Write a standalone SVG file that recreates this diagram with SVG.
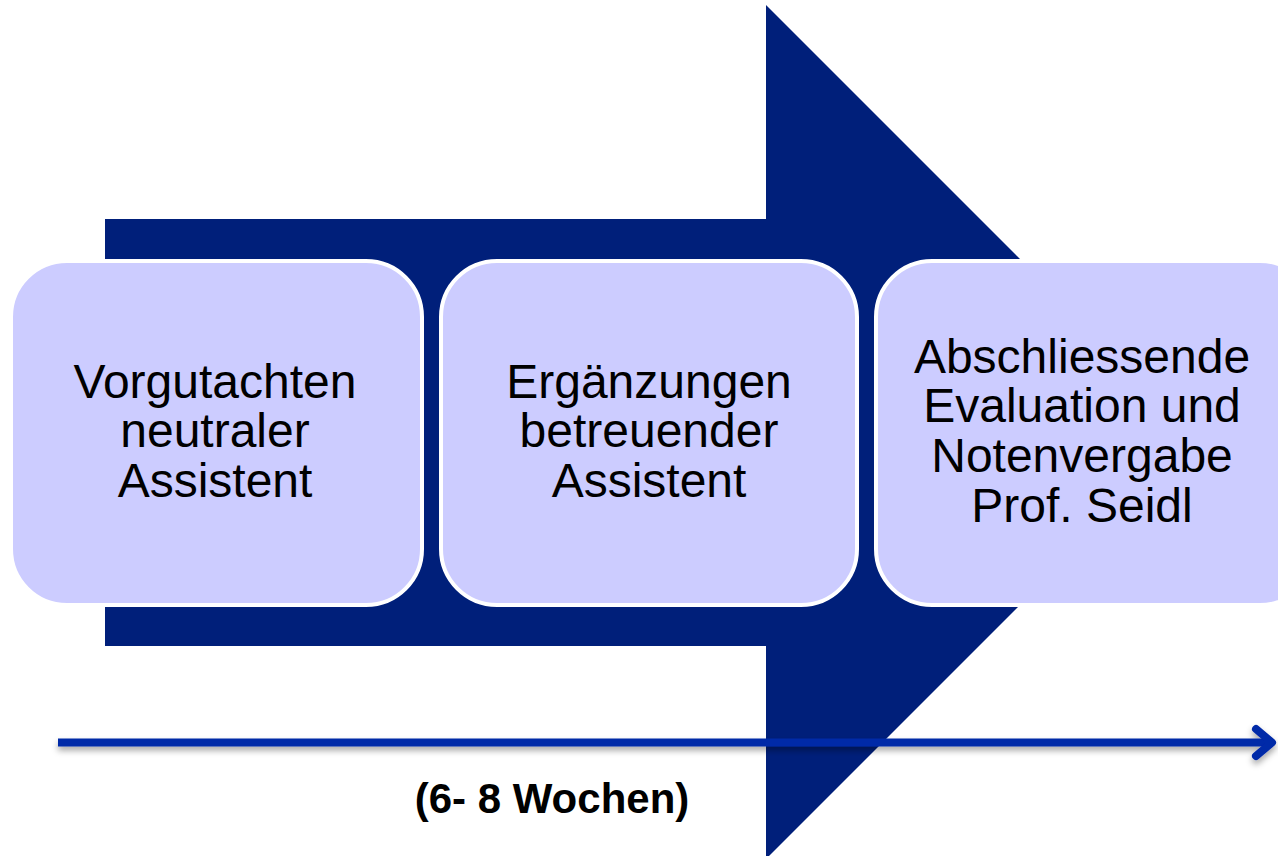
<svg xmlns="http://www.w3.org/2000/svg" width="1278" height="856" viewBox="0 0 1278 856">
<defs>
<style>
.box{fill:#CCCCFF;stroke:#FFFFFF;stroke-width:4}
.t{font-family:"Liberation Sans",Arial,sans-serif;font-size:48px;fill:#000;text-anchor:middle}
.lbl{font-family:"Liberation Sans",Arial,sans-serif;font-size:42px;font-weight:bold;fill:#000;text-anchor:middle}
.tl{stroke:#0029A8;stroke-width:8;fill:none}
</style>
<filter id="sh" x="-5%" y="-100%" width="110%" height="300%">
<feDropShadow dx="0" dy="4" stdDeviation="3" flood-color="#000" flood-opacity="0.35"/>
</filter>
</defs>
<rect width="1278" height="856" fill="#FFFFFF"/>
<g id="big-arrow">
<polygon points="105,219 766,219 766,5 1193,432 766,859 766,646 105,646" fill="#001F7A"/>
</g>
<g id="node1">
<rect class="box" x="11" y="261" width="411" height="344" rx="56" ry="56"/>
<text class="t" x="215" y="398">Vorgutachten</text>
<text class="t" x="215" y="447">neutraler</text>
<text class="t" x="215" y="497">Assistent</text>
</g>
<g id="node2">
<rect class="box" x="441" y="261" width="416" height="344" rx="56" ry="56"/>
<text class="t" x="649" y="398">Ergänzungen</text>
<text class="t" x="649" y="447">betreuender</text>
<text class="t" x="649" y="497">Assistent</text>
</g>
<g id="node3">
<rect class="box" x="876" y="261" width="440" height="344" rx="56" ry="56"/>
<text class="t" x="1082" y="373">Abschliessende</text>
<text class="t" x="1082" y="422">Evaluation und</text>
<text class="t" x="1082" y="472">Notenvergabe</text>
<text class="t" x="1082" y="522">Prof. Seidl</text>
</g>
<g id="connectors" filter="url(#sh)">
<line class="tl" x1="58" y1="742.5" x2="1272" y2="742.5"/>
<polyline class="tl" points="1256,729 1272,742.5 1256,756" stroke-linecap="round" stroke-linejoin="round"/>
</g>
<g id="label">
<text class="lbl" x="552" y="813">(6- 8 Wochen)</text>
</g>
</svg>
